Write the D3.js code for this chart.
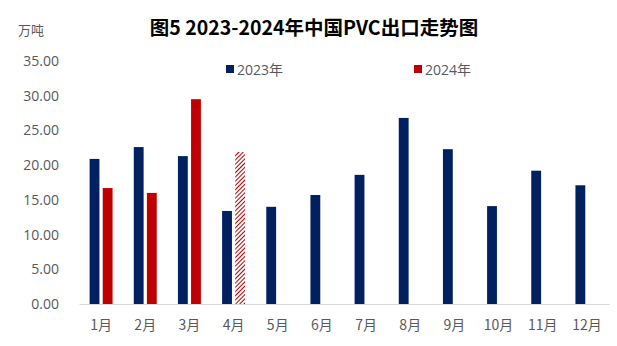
<!DOCTYPE html>
<html><head><meta charset="utf-8">
<script src="https://cdn.jsdelivr.net/npm/d3@7"></script>
<style>
body{margin:0;background:#fff;}
text{font-family:"Open Sans","Noto Sans CJK SC",sans-serif;}
</style></head>
<body><svg id="c" width="617" height="346"></svg>
<script>
const months = ["1月","2月","3月","4月","5月","6月","7月","8月","9月","10月","11月","12月"];
const series = ["2023年","2024年"];
const values2023 = [20.9,22.6,21.3,13.4,14.0,15.7,18.6,26.8,22.3,14.1,19.2,17.1];
const values2024 = [16.7,16.0,29.5,21.9,null,null,null,null,null,null,null,null];
const estimatedMonths2024 = ["4月"];
const yTicks = [0,5,10,15,20,25,30,35];
const colors = {"2023年":"#002060","2024年":"#C00000"};

const svg = d3.select("#c");
const defs = svg.append("defs");
const pat = defs.append("pattern").attr("id","hatch").attr("patternUnits","userSpaceOnUse")
  .attr("width",3).attr("height",3).attr("patternTransform","rotate(45)");
pat.append("rect").attr("width",3).attr("height",3).attr("fill","#fff");
pat.append("line").attr("x1",0).attr("y1",0).attr("x2",0).attr("y2",3)
  .attr("stroke","#B00000").attr("stroke-width",2);

const x0 = d3.scaleBand().domain(months).range([79,609]).paddingInner(0.48).paddingOuter(0.24);
const x1 = d3.scaleBand().domain(series).range([0,x0.bandwidth()]).paddingInner(0.25);
const y = d3.scaleLinear().domain([0,35]).range([304,61]);

// y axis
const ya = svg.append("g").attr("transform","translate(59,0)")
  .call(d3.axisLeft(y).tickValues(yTicks).tickFormat(d3.format(".2f")).tickSize(0).tickPadding(0));
ya.select(".domain").remove();
ya.selectAll("text").attr("fill","#595959").style("font-size","14px").style("font-family","'Open Sans',sans-serif");

// x axis
const xa = svg.append("g").attr("transform","translate(0,304)")
  .call(d3.axisBottom(x0).tickSize(0).tickPadding(16));
xa.select(".domain").attr("stroke","#d9d9d9").attr("stroke-width",1);
xa.selectAll("text").attr("fill","#595959").style("font-size","14px").style("font-family","'Noto Sans CJK SC',sans-serif");

const rows = months.map((m,i)=>({m, vals:[{s:"2023年",v:values2023[i]},{s:"2024年",v:values2024[i]}]}));
const g = svg.append("g");
rows.forEach(r=>{
  r.vals.forEach(d=>{
    if(d.v==null) return;
    const est = d.s==="2024年" && estimatedMonths2024.includes(r.m);
    g.append("rect")
      .attr("x", x0(r.m)+x1(d.s))
      .attr("width", x1.bandwidth())
      .attr("y", y(d.v))
      .attr("height", y(0)-y(d.v))
      .attr("fill", est ? "url(#hatch)" : colors[d.s]);
  });
});

// title
svg.append("text").attr("x",314).attr("y",35).attr("text-anchor","middle")
  .style("font-family","'Noto Sans CJK SC',sans-serif").style("font-weight","bold").style("font-size","19.5px")
  .attr("fill","#000").text("图5 2023-2024年中国PVC出口走势图");
svg.append("text").attr("x",18).attr("y",35)
  .style("font-family","'Noto Sans CJK SC',sans-serif").style("font-size","13px").attr("fill","#595959").text("万吨");

// legend
const legX = [226,414];
series.forEach((s,i)=>{
  svg.append("rect").attr("x",legX[i]).attr("y",65).attr("width",8).attr("height",8).attr("fill",colors[s]);
  svg.append("text").attr("x",legX[i]+11).attr("y",75)
    .style("font-family","'Open Sans','Noto Sans CJK SC',sans-serif").style("font-size","14px").attr("fill","#595959").text(s);
});
</script></body></html>
